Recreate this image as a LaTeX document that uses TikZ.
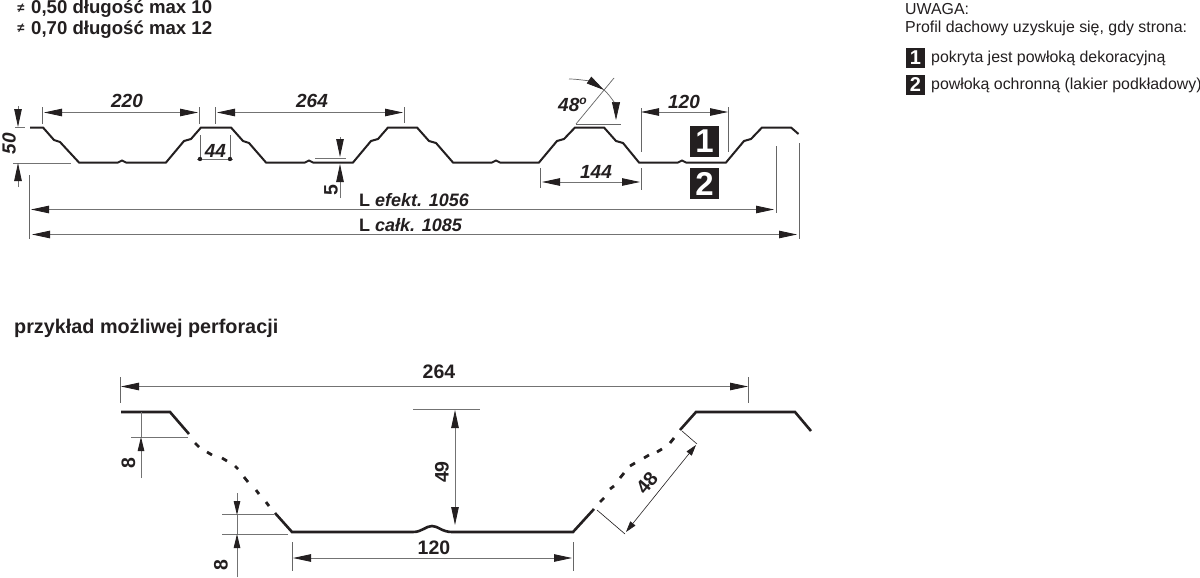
\documentclass[tikz,border=0pt]{standalone}
\usepackage{fontspec}
\setmainfont{Liberation Sans}
\usetikzlibrary{arrows.meta}
\definecolor{ink}{HTML}{231F20}
\tikzset{
  profile/.style={draw=ink,line width=2pt,line join=miter},
  profilethick/.style={draw=ink,line width=2.6pt},
  dim/.style={draw=black!55,line width=0.85pt},
  ext/.style={draw=black!60,line width=0.7pt},
  tip/.style={-{Triangle[length=18pt,width=7.5pt,color=ink]}},
  tipb/.style={{Triangle[length=18pt,width=7.5pt,color=ink]}-{Triangle[length=18pt,width=7.5pt,color=ink]}},
  tipm/.style={-{Triangle[length=14pt,width=6.5pt,color=ink]}},
  tips/.style={{Triangle[length=11pt,width=6.5pt,color=ink]}-{Triangle[length=11pt,width=6.5pt,color=ink]}},
  label/.style={font=\fontsize{19}{20}\selectfont\bfseries\itshape,text=ink,inner sep=0pt},
  upl/.style={font=\fontsize{18}{20}\selectfont\bfseries,text=ink,inner sep=0pt},
  rotl/.style={font=\fontsize{19.5}{20}\selectfont\bfseries,text=ink,inner sep=0pt},
  head/.style={font=\fontsize{18.6}{20}\selectfont\bfseries,text=ink,inner sep=0pt,anchor=base west},
  note/.style={font=\fontsize{15.9}{18}\selectfont,text=ink,inner sep=0pt,anchor=base west},
  numbox/.style={fill=ink,text=white,font=\fontsize{33}{33}\selectfont\bfseries,inner sep=0pt,minimum width=29pt,minimum height=31pt},
  smallbox/.style={fill=ink,text=white,font=\fontsize{20}{20}\selectfont\bfseries,inner sep=0pt,minimum width=19pt,minimum height=20pt},
}
\begin{document}
\begin{tikzpicture}[x=1pt,y=-1pt]
\useasboundingbox (0,0) rectangle (1200,578);
\fill[white] (0,0) rectangle (1200,578);
% headings
\node[font=\fontsize{13}{13}\selectfont\bfseries,text=ink,inner sep=0pt] (ne1) at (21,8) {≠};
\node[head] (h1) at (31,14) {0,50 długość max 10};
\node[font=\fontsize{13}{13}\selectfont\bfseries,text=ink,inner sep=0pt] (ne2) at (21,28) {≠};
\node[head] (h2) at (31,34.5) {0,70 długość max 12};
\node[head,font=\fontsize{19.8}{20}\selectfont\bfseries] (h3) at (14,333) {przykład możliwej perforacji};
% note
\node[note] (n1) at (905,15) {UWAGA:};
\node[note] (n2) at (905,32.5) {Profil dachowy uzyskuje się, gdy strona:};
\node[smallbox] (b1) at (915.5,58) {1};
\node[note] (n3) at (931,63) {pokryta jest powłoką dekoracyjną};
\node[smallbox] (b2) at (915.5,85) {2};
\node[note] (n4) at (931,89) {powłoką ochronną (lakier podkładowy)};
% main profile
\path[profile] (30,127.5) -- (43,127.5) -- (54,140) -- (60,142) -- (79,162.5) -- (118,162.5) -- (122,160.5) -- (126,162.5) -- (166,162.5) -- (184,141) -- (191,139) -- (201,127.5)
 -- (231,127.5) -- (243,141) -- (249,143) -- (266,162.5) -- (305,162.5) -- (309,160.5) -- (313,162.5) -- (353,162.5) -- (371,141) -- (378,139) -- (388,127.5)
 -- (417,127.5) -- (429,141) -- (436,143) -- (453,162.5) -- (492,162.5) -- (496,160.5) -- (500,162.5) -- (539,162.5) -- (557,141) -- (564,139) -- (575,127.5)
 -- (604,127.5) -- (616,141) -- (623,143) -- (639,162.5) -- (678,162.5) -- (682,160.5) -- (686,162.5) -- (726,162.5) -- (744,141) -- (751,139) -- (762,127.5)
 -- (791,127.5) -- (798.5,134);
% 50
\draw[dim] (15,127) -- (25,127);
\draw[dim] (13,163) -- (71,163);
\draw[dim,tip] (18,106) -- (18,127);
\draw[dim,tip] (18,187) -- (18,163);
\node[label,rotate=90] (d50) at (9,143.5) {50};
% 220, 264
\draw[ext] (42,107) -- (42,124);
\draw[ext] (199.5,107) -- (199.5,124);
\draw[ext] (215,107) -- (215,124);
\draw[ext] (404.5,107) -- (404.5,123);
\draw[dim,tipb] (44,112.5) -- (198,112.5);
\draw[dim,tipb] (217,112.5) -- (403,112.5);
\node[label] (d220) at (127,101) {220};
\node[label] (d264) at (312,101) {264};
% 44
\draw[ext] (200,135) -- (200,160);
\draw[ext] (230,135) -- (230,160);
\draw[dim] (197,159) -- (233,159);
\fill[ink] (200,159) circle (2.2pt) (230,159) circle (2.2pt);
\node[label] (d44) at (215.5,151) {44};
% 5
\draw[dim] (315,158) -- (346,158);
\draw[dim,tip] (340,137) -- (340,157);
\draw[dim,tip] (340,198) -- (340,164);
\node[rotl,rotate=90] (d5) at (331,190) {5};
% L dims
\draw[ext] (29,175) -- (29,239);
\draw[ext] (776,146) -- (776,213);
\draw[ext] (799,143) -- (799,239);
\draw[dim,tipb] (31,209.5) -- (774,209.5);
\draw[dim,tipb] (32,234.5) -- (797,234.5);
\node[upl,anchor=base west] (le) at (359,206) {L \textit{efekt. 1056}};
\node[upl,anchor=base west] (lc) at (359,231) {L \textit{całk. 1085}};
% 144, 120
\draw[ext] (540,168) -- (540,188);
\draw[ext] (641,168) -- (641,190);
\draw[dim,tipb] (542,182) -- (640,182);
\node[label] (d144) at (596,172) {144};
\draw[ext] (641,108) -- (641,152);
\draw[ext] (728.5,107) -- (728.5,152);
\draw[dim,tipb] (641,112) -- (728,112);
\node[label] (d120) at (684,102) {120};
% 48 degrees
\draw[ext] (576,124) -- (614,78);
\draw[ext] (576,124) -- (621,124);
\draw[ext,-{Triangle[length=18pt,width=8pt,color=ink]}] (569,79) .. controls (580,79) and (592,82) .. (604,90);
\draw[ext,-{Triangle[length=18pt,width=8pt,color=ink]}] (604,90) .. controls (612,97) and (616,107) .. (616,120);
\node[label,anchor=base west] (d48a) at (558,111) {48\raisebox{7pt}{\fontsize{12}{12}\selectfont o}};
% boxes on profile
\node[numbox] (p1) at (704.5,141.5) {1};
\node[numbox] (p2) at (704.5,183.5) {2};
% lower drawing
\draw[profilethick] (121,412) -- (170,412) -- (189,434);
\draw[profilethick] (275,513) -- (292,532) -- (413,532) .. controls (422,532) and (426,526) .. (432,526) .. controls (438,526) and (442,532) .. (452,532) -- (573,532) -- (594,509);
\draw[profilethick] (680,430) -- (696,412) -- (795,412) -- (811,431);
\foreach \a/\b/\c/\d in {195/443/199/447, 207/452/212/455, 222/458/227/461, 235/466/238/469, 244/477/248/482, 256/490/259/494, 266/502/269/506, 600/502/604/498, 610/489/614/486, 620/478/624/473, 630/466/635/463, 644/458/649/455, 657/452/662/449, 670/443/674/438}
  \draw[draw=ink,line width=2.8pt] (\a,\b) -- (\c,\d);
% 264
\draw[ext] (120,377) -- (120,403);
\draw[ext] (748.5,377) -- (748.5,403);
\draw[dim,tipb] (121,386.5) -- (748,386.5);
\node[rotl] (e264) at (439,372) {264};
% upper 8
\draw[dim] (131,437) -- (188,437);
\draw[dim] (141,412) -- (141,437);
\draw[dim,tipm] (141,478) -- (141,437);
\node[rotl,rotate=90] (e8a) at (128.5,463) {8};
% lower 8
\draw[dim] (222,514) -- (274,514);
\draw[dim] (222,534) -- (288,534);
\draw[dim,tipm] (237,493) -- (237,515);
\draw[dim,tipm] (237,577) -- (237,534);
\draw[dim] (237,515) -- (237,534);
\node[rotl,rotate=90] (e8b) at (221,565) {8};
% 49
\draw[dim] (413,409.5) -- (480,409.5);
\draw[dim,tipb] (455,410) -- (455,525);
\node[rotl,rotate=90] (e49) at (442,472) {49};
% 120
\draw[ext] (292,542) -- (292,571);
\draw[ext] (573,542) -- (573,571);
\draw[dim,tipb] (293,558) -- (572,558);
\node[rotl] (e120) at (434,548) {120};
% 48
\draw[draw=ink,line width=0.6pt] (597,510) -- (625,534);
\draw[draw=ink,line width=0.6pt] (682,431) -- (697,444);
\draw[draw=ink,line width=0.6pt,tips] (626,532) -- (696,445);
\node[rotl,rotate=50] (e48) at (647,483) {48};
\end{tikzpicture}
\end{document}
